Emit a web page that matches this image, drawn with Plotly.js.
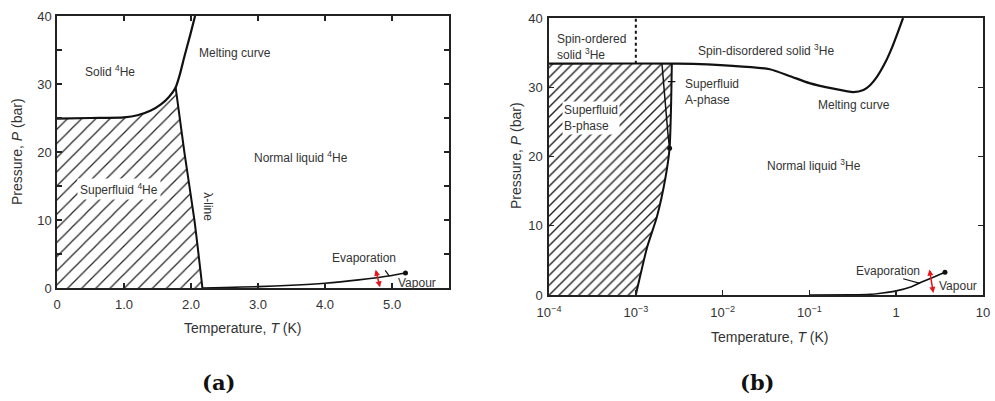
<!DOCTYPE html>
<html>
<head>
<meta charset="utf-8">
<script src="https://cdn.plot.ly/plotly-3.0.1.min.js"></script>
<style>
  html, body { margin: 0; padding: 0; background: #fff; }
  #chart { width: 995px; height: 401px; }
</style>
</head>
<body>
<div id="chart"></div>
<script>
// ---- Helium-4 phase boundaries (T in K, P in bar) ----
const he4MeltT = [0, 0.5, 1.0, 1.2, 1.4, 1.55, 1.67, 1.77, 1.83, 1.9, 1.99, 2.06];
const he4MeltP = [24.9, 25.0, 25.1, 25.4, 26.1, 27.0, 28.1, 29.5, 31.3, 34, 37.3, 40];
const lambdaT = [1.77, 1.9, 2.05, 2.17];
const lambdaP = [29.5, 20, 10, 0];
const he4VapT = [2.17, 2.5, 3.0, 3.5, 4.0, 4.5, 5.0, 5.2];
const he4VapP = [0.0, 0.08, 0.2, 0.4, 0.7, 1.2, 1.85, 2.2];
const he4CritT = [5.2];
const he4CritP = [2.2];
const he4TickVals = [0, 1, 2, 3, 4, 5];
const he4TickText = ['0', '1.0', '2.0', '3.0', '4.0', '5.0'];

// ---- Helium-3 phase boundaries (T in K, P in bar) ----
const he3MeltT = [1e-4, 3e-3, 0.013, 0.035, 0.06, 0.1, 0.19, 0.32, 0.42, 0.5, 0.6, 0.75, 0.9, 1.05, 1.2];
const he3MeltP = [33.4, 33.4, 33.1, 32.6, 31.6, 30.6, 29.8, 29.3, 29.6, 30.3, 31.5, 33.6, 35.8, 38, 40];
const spinT = [1e-3, 1e-3];
const spinP = [33.4, 40];
const tcT = [2.6e-3, 2.55e-3, 2.45e-3, 2.2e-3, 1.75e-3, 1.35e-3, 1.0e-3];
const tcP = [33.4, 27.5, 21.2, 17, 11.3, 6.9, 0];
const abT = [2.0e-3, 2.17e-3, 2.34e-3, 2.45e-3];
const abP = [33.4, 28.2, 23.4, 21.2];
const pcpT = [2.45e-3];
const pcpP = [21.2];
const he3VapT = [0.1, 0.3, 0.5, 0.7, 1.0, 1.5, 2.0, 2.6, 3.65];
const he3VapP = [0, 0.02, 0.1, 0.3, 0.6, 1.2, 1.9, 2.5, 3.3];
const he3CritT = [3.65];
const he3CritP = [3.3];
const he3TickVals = [1e-4, 1e-3, 1e-2, 1e-1, 1, 10];
const he3TickText = ['10<sup>−4</sup>', '10<sup>−3</sup>', '10<sup>−2</sup>', '10<sup>−1</sup>', '1', '10'];

const INK = '#111';
const TXT = '#333';
const FONT = 'Liberation Sans, Arial, sans-serif';
const lg = Math.log10;

// superfluid 4He region: melting curve up to the lambda point, then the lambda line down
const jIdx = he4MeltT.indexOf(lambdaT[0]);
const sf4X = he4MeltT.slice(0, jIdx + 1).concat(lambdaT.slice(1), [0]);
const sf4Y = he4MeltP.slice(0, jIdx + 1).concat(lambdaP.slice(1), [0]);

// superfluid 3He region: left edge, melting plateau, then the Tc line down
const sf3X = [he3MeltT[0], he3MeltT[0]].concat(tcT);
const sf3Y = [0, he3MeltP[0]].concat(tcP);

function line(x, y, xa, ya, w, dash) {
  return { x, y, xaxis: xa, yaxis: ya, mode: 'lines', hoverinfo: 'skip',
           line: { color: INK, width: w, dash: dash || 'solid', shape: 'spline', smoothing: 0.6 } };
}
function dot(x, y, xa, ya) {
  return { x, y, xaxis: xa, yaxis: ya, mode: 'markers', hoverinfo: 'skip',
           marker: { color: INK, size: 5 } };
}

const traces = [
  { x: sf4X, y: sf4Y, xaxis: 'x', yaxis: 'y', mode: 'lines', fill: 'toself', hoverinfo: 'skip',
    line: { width: 0, color: 'rgba(0,0,0,0)' }, fillcolor: 'white',
    fillpattern: { shape: '/', size: 10, solidity: 0.12, fgcolor: '#222', bgcolor: 'white', fillmode: 'replace' } },
  { x: sf3X, y: sf3Y, xaxis: 'x2', yaxis: 'y2', mode: 'lines', fill: 'toself', hoverinfo: 'skip',
    line: { width: 0, color: 'rgba(0,0,0,0)' }, fillcolor: 'white',
    fillpattern: { shape: '/', size: 7, solidity: 0.2, fgcolor: '#222', bgcolor: 'white', fillmode: 'replace' } },
  line(he4MeltT, he4MeltP, 'x', 'y', 2.2),
  line(lambdaT, lambdaP, 'x', 'y', 2),
  line(he4VapT, he4VapP, 'x', 'y', 1.6),
  dot(he4CritT, he4CritP, 'x', 'y'),
  line(he3MeltT, he3MeltP, 'x2', 'y2', 2.2),
  line(spinT, spinP, 'x2', 'y2', 2, 'dot'),
  line(tcT, tcP, 'x2', 'y2', 2),
  line(abT, abP, 'x2', 'y2', 1.5),
  dot(pcpT, pcpP, 'x2', 'y2'),
  line(he3VapT, he3VapP, 'x2', 'y2', 1.6),
  dot(he3CritT, he3CritP, 'x2', 'y2')
];

function label(text, x, y, xr, yr, extra) {
  return Object.assign({ text, x, y, xref: xr, yref: yr, showarrow: false,
    font: { family: FONT, size: 12, color: TXT } }, extra || {});
}
function pointer(x, y, ax, ay, xr, yr, color, both) {
  return { text: '', x, y, ax, ay, xref: xr, yref: yr, axref: xr, ayref: yr,
    showarrow: true, arrowcolor: color, arrowwidth: both ? 1.5 : 1.2,
    arrowhead: both ? 2 : 0, startarrowhead: both ? 2 : 0, arrowsize: 0.8, startarrowsize: 0.8,
    arrowside: both ? 'end+start' : 'end', standoff: 0, startstandoff: 0 };
}
function paperText(text, x, y, size, extra) {
  return Object.assign({ text, x, y, xref: 'paper', yref: 'paper', showarrow: false,
    xanchor: 'center', yanchor: 'middle', font: { family: FONT, size, color: TXT } }, extra || {});
}

const annotations = [
  // 4He panel
  label('Solid <sup>4</sup>He', 0.79, 31.9, 'x', 'y'),
  label('Melting curve', 2.66, 34.5, 'x', 'y'),
  label('Normal liquid <sup>4</sup>He', 3.64, 19.3, 'x', 'y'),
  label('Superfluid <sup>4</sup>He', 0.93, 14.6, 'x', 'y', { bgcolor: 'white', borderpad: 2 }),
  label('λ-line', 2.25, 11.9, 'x', 'y', { textangle: 90 }),
  label('Evaporation', 4.58, 4.4, 'x', 'y'),
  label('Vapour', 5.37, 0.74, 'x', 'y'),
  pointer(4.96, 1.75, 4.88, 2.8, 'x', 'y', INK, false),
  pointer(4.82, 0.1, 4.75, 2.9, 'x', 'y', '#e8141c', true),
  // 3He panel
  label('Spin-ordered<br>solid <sup>3</sup>He', lg(1.17e-4), 35.8, 'x2', 'y2', { xanchor: 'left', align: 'left' }),
  label('Spin-disordered solid <sup>3</sup>He', lg(0.032), 35.4, 'x2', 'y2'),
  label('Superfluid<br>A-phase', lg(3.5e-3), 29.3, 'x2', 'y2', { xanchor: 'left', align: 'left' }),
  label('Superfluid<br>B-phase', lg(1.42e-4), 25.6, 'x2', 'y2', { xanchor: 'left', align: 'left', bgcolor: 'white', borderpad: 1 }),
  label('Melting curve', lg(0.327), 27.4, 'x2', 'y2'),
  label('Normal liquid <sup>3</sup>He', lg(0.112), 18.8, 'x2', 'y2'),
  label('Evaporation', lg(0.805), 3.5, 'x2', 'y2'),
  label('Vapour', lg(5.2), 1.3, 'x2', 'y2'),
  pointer(lg(2.85e-3), 30.8, lg(2.25e-3), 30.8, 'x2', 'y2', INK, false),
  pointer(lg(1.88), 1.69, lg(1.157), 2.41, 'x2', 'y2', INK, false),
  pointer(lg(2.68), 0.3, lg(2.4), 3.9, 'x2', 'y2', '#e8141c', true),
  // axis titles and panel captions
  paperText('Temperature, <i>T</i> (K)', 0.2442, 0.182, 14),
  paperText('Temperature, <i>T</i> (K)', 0.7739, 0.1596, 14),
  paperText('Pressure, <i>P</i> (bar)', 0.0171, 0.621, 14, { textangle: -90 }),
  paperText('Pressure, <i>P</i> (bar)', 0.5186, 0.611, 14, { textangle: -90 }),
  paperText('<b>(a)</b>', 0.2201, 0.0449, 21, { font: { family: 'DejaVu Serif, serif', size: 21, color: '#111' } }),
  paperText('<b>(b)</b>', 0.7618, 0.0449, 21, { font: { family: 'DejaVu Serif, serif', size: 21, color: '#111' } })
];

const axisBase = {
  showline: true, linecolor: '#222', linewidth: 1.6, showgrid: false, zeroline: false,
  ticks: 'inside', ticklen: 5, tickwidth: 1.4, tickcolor: '#222',
  tickfont: { family: FONT, size: 13, color: TXT }, fixedrange: true
};

const layout = {
  width: 995, height: 401,
  margin: { l: 0, r: 0, t: 0, b: 0 },
  paper_bgcolor: 'white', plot_bgcolor: 'white',
  showlegend: false,
  xaxis: Object.assign({}, axisBase, {
    domain: [0.0573, 0.4513], range: [0, 5.85], anchor: 'y', mirror: 'ticks',
    tickmode: 'array', tickvals: he4TickVals, ticktext: he4TickText, ticklabelstandoff: 4
  }),
  yaxis: Object.assign({}, axisBase, {
    domain: [0.2818, 0.9601], range: [0, 40], anchor: 'x', mirror: 'ticks',
    tickmode: 'linear', tick0: 0, dtick: 10, ticklabelstandoff: 1,
    minor: { dtick: 5, ticks: 'inside', ticklen: 5, tickcolor: '#222', tickwidth: 1.2 }
  }),
  xaxis2: Object.assign({}, axisBase, {
    type: 'log', domain: [0.5518, 0.9879], range: [-4, 1], anchor: 'y2', mirror: true,
    tickmode: 'array', tickvals: he3TickVals, ticktext: he3TickText, ticklabelstandoff: 5
  }),
  yaxis2: Object.assign({}, axisBase, {
    domain: [0.2643, 0.9551], range: [0, 40], anchor: 'x2', mirror: 'ticks',
    tickmode: 'linear', tick0: 0, dtick: 10, ticklabelstandoff: 2
  }),
  annotations
};

Plotly.newPlot('chart', traces, layout, { staticPlot: true, displayModeBar: false });
</script>
</body>
</html>
